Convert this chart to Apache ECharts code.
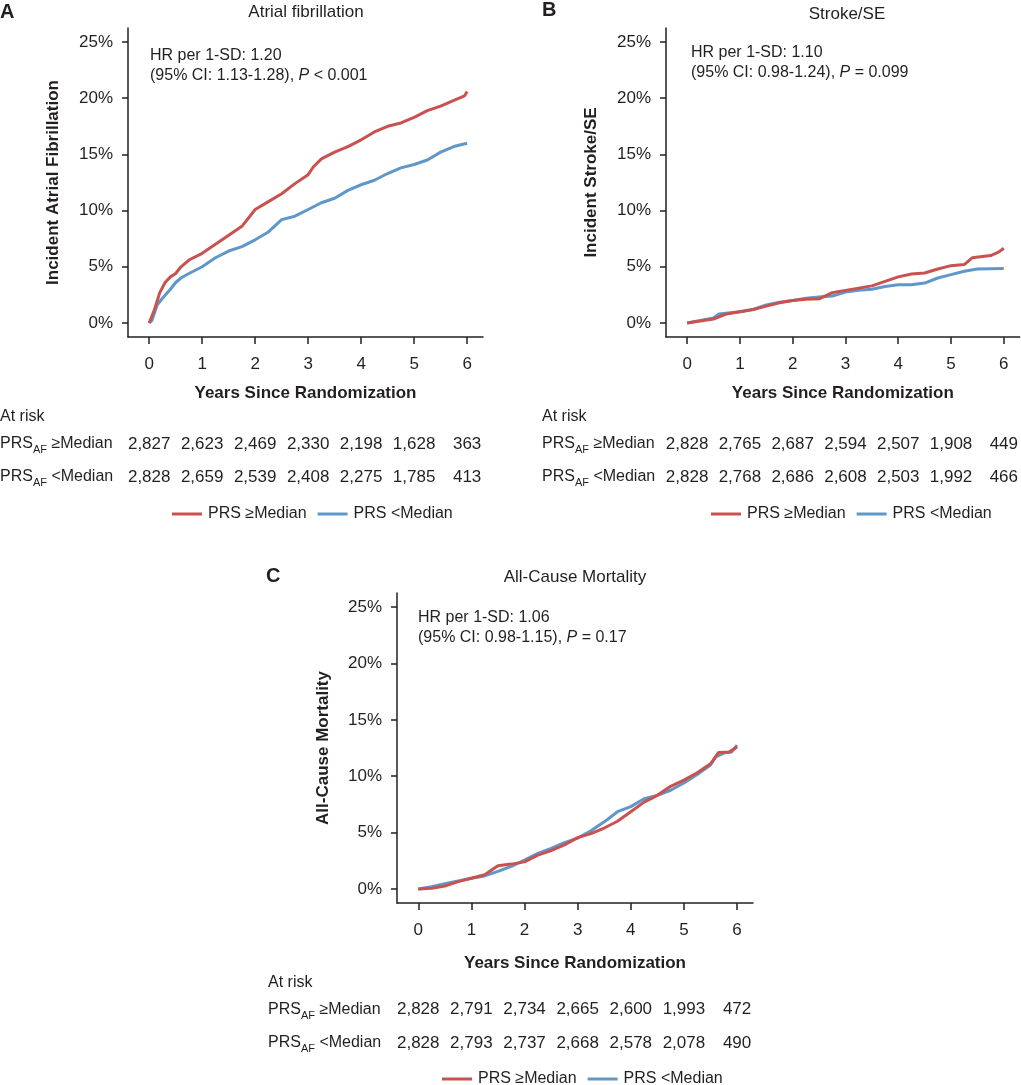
<!DOCTYPE html>
<html>
<head>
<meta charset="utf-8">
<script src="https://cdn.jsdelivr.net/npm/echarts@6/dist/echarts.min.js"></script>
<style>
html,body{margin:0;padding:0;background:#fff}
#main{width:1021px;height:1085px}
</style>
</head>
<body>
<div id="main"></div>
<script>
// data (years since randomization, cumulative incidence %)
var xTicks = [0, 1, 2, 3, 4, 5, 6];
var yTicks = [0, 5, 10, 15, 20, 25];

// A - atrial fibrillation
var afHighT = [0, 0.1, 0.2, 0.3, 0.4, 0.5, 0.6, 0.75, 1, 1.25, 1.5, 1.75, 2, 2.25, 2.5, 2.75, 3, 3.1, 3.25, 3.5, 3.75, 4, 4.25, 4.5, 4.75, 5, 5.25, 5.5, 5.75, 5.95, 6];
var afHighV = [0, 1.2, 2.7, 3.6, 4.1, 4.4, 5.0, 5.6, 6.2, 7.0, 7.8, 8.6, 10.1, 10.8, 11.5, 12.4, 13.2, 13.9, 14.6, 15.2, 15.7, 16.3, 17.0, 17.5, 17.8, 18.3, 18.9, 19.3, 19.8, 20.2, 20.6];
var afLowT = [0, 0.05, 0.15, 0.25, 0.4, 0.5, 0.6, 0.75, 1, 1.25, 1.5, 1.75, 2, 2.25, 2.5, 2.75, 3, 3.25, 3.5, 3.75, 4, 4.25, 4.5, 4.75, 5, 5.25, 5.5, 5.75, 6];
var afLowV = [0, 0.2, 1.6, 2.2, 3.0, 3.6, 4.0, 4.4, 5.0, 5.8, 6.4, 6.8, 7.4, 8.1, 9.2, 9.5, 10.1, 10.7, 11.1, 11.8, 12.3, 12.7, 13.3, 13.8, 14.1, 14.5, 15.2, 15.7, 16.0];
var afRiskHigh = ['2,827', '2,623', '2,469', '2,330', '2,198', '1,628', '363'];
var afRiskLow = ['2,828', '2,659', '2,539', '2,408', '2,275', '1,785', '413'];

// B - stroke/SE
var skHighT = [0, 0.5, 0.75, 1, 1.25, 1.5, 1.75, 2, 2.25, 2.5, 2.75, 3, 3.25, 3.5, 3.75, 4, 4.25, 4.5, 4.75, 5, 5.25, 5.4, 5.75, 5.9, 6];
var skHighV = [0, 0.35, 0.8, 1.0, 1.2, 1.5, 1.8, 2.0, 2.1, 2.15, 2.7, 2.9, 3.1, 3.3, 3.7, 4.1, 4.35, 4.45, 4.8, 5.1, 5.2, 5.8, 6.0, 6.3, 6.65];
var skLowT = [0, 0.5, 0.6, 1, 1.25, 1.5, 1.75, 2, 2.25, 2.5, 2.75, 3, 3.25, 3.5, 3.75, 4, 4.25, 4.5, 4.75, 5, 5.25, 5.5, 6];
var skLowV = [0, 0.45, 0.8, 1.0, 1.2, 1.6, 1.85, 2.0, 2.2, 2.3, 2.4, 2.75, 2.9, 3.0, 3.25, 3.4, 3.4, 3.55, 4.0, 4.3, 4.6, 4.8, 4.85];
var skRiskHigh = ['2,828', '2,765', '2,687', '2,594', '2,507', '1,908', '449'];
var skRiskLow = ['2,828', '2,768', '2,686', '2,608', '2,503', '1,992', '466'];

// C - all-cause mortality
var mtHighT = [0, 0.25, 0.5, 0.75, 1, 1.25, 1.5, 1.75, 2, 2.25, 2.5, 2.75, 3, 3.25, 3.5, 3.75, 4, 4.25, 4.5, 4.75, 5, 5.25, 5.5, 5.65, 5.85, 6];
var mtHighV = [0, 0.05, 0.25, 0.65, 0.95, 1.25, 2.05, 2.2, 2.4, 3.0, 3.4, 3.9, 4.55, 4.9, 5.4, 6.0, 6.85, 7.7, 8.3, 9.1, 9.65, 10.3, 11.1, 12.1, 12.15, 12.6];
var mtLowT = [0, 0.25, 0.5, 0.75, 1, 1.25, 1.5, 1.75, 2, 2.25, 2.5, 2.75, 3, 3.25, 3.5, 3.75, 4, 4.25, 4.5, 4.75, 5, 5.25, 5.5, 5.6, 5.75, 5.9, 6];
var mtLowV = [0, 0.2, 0.45, 0.7, 0.95, 1.15, 1.55, 2.0, 2.55, 3.15, 3.6, 4.1, 4.5, 5.15, 5.95, 6.85, 7.3, 8.0, 8.3, 8.75, 9.4, 10.15, 11.0, 11.7, 12.05, 12.15, 12.75];
var mtRiskHigh = ['2,828', '2,791', '2,734', '2,665', '2,600', '1,993', '472'];
var mtRiskLow = ['2,828', '2,793', '2,737', '2,668', '2,578', '2,078', '490'];

var RED = '#c9514f';
var BLUE = '#6097c9';
var INK = '#231f20';
var FONT = '"Liberation Sans", Arial, sans-serif';

function pairs(t, v) {
    return t.map(function (x, i) { return [x, v[i]]; });
}

var myChart = echarts.init(document.getElementById('main'));

var grids = [
    {left: 128, top: 28, width: 355, height: 309},
    {left: 666, top: 28, width: 355, height: 309},
    {left: 397, top: 593, width: 356, height: 310}
];

var panels = [
    {yName: 'Incident Atrial Fibrillation', yGap: 66, xGap: 48, riskOff: [107, 140], high: pairs(afHighT, afHighV), low: pairs(afLowT, afLowV), r1: afRiskHigh, r2: afRiskLow},
    {yName: 'Incident Stroke/SE', yGap: 66, xGap: 48, riskOff: [107, 140], high: pairs(skHighT, skHighV), low: pairs(skLowT, skLowV), r1: skRiskHigh, r2: skRiskLow},
    {yName: 'All-Cause Mortality', yGap: 65, xGap: 52, riskOff: [106, 140], high: pairs(mtHighT, mtHighV), low: pairs(mtLowT, mtLowV), r1: mtRiskHigh, r2: mtRiskLow}
];

var xAxes = [], yAxes = [], series = [];
panels.forEach(function (p, g) {
    xAxes.push({
        type: 'value', gridIndex: g, min: -0.4, max: 6.3,
        name: 'Years Since Randomization', nameLocation: 'middle', nameGap: p.xGap,
        nameTextStyle: {fontSize: 17, fontWeight: 'bold', color: INK, fontFamily: FONT},
        axisLine: {onZero: false, lineStyle: {color: INK, width: 1.5}},
        axisTick: {customValues: xTicks, length: 7, lineStyle: {color: INK, width: 1.5}},
        axisLabel: {customValues: xTicks, margin: 19, fontSize: 17, color: INK, fontFamily: FONT},
        splitLine: {show: false}
    });
    [p.r1, p.r2].forEach(function (row, k) {
        xAxes.push({
            type: 'value', gridIndex: g, min: -0.4, max: 6.3, position: 'bottom', offset: p.riskOff[k],
            axisLine: {show: false}, axisTick: {show: false}, splitLine: {show: false},
            axisLabel: {
                customValues: xTicks, margin: 0, verticalAlign: 'middle',
                fontSize: 17, color: INK, fontFamily: FONT,
                formatter: function (v) { return row[Math.round(v)]; }
            }
        });
    });
    yAxes.push({
        type: 'value', gridIndex: g, min: -1.25, max: 26.25,
        name: p.yName, nameLocation: 'middle', nameGap: p.yGap, nameRotate: 90,
        nameTextStyle: {fontSize: 17, fontWeight: 'bold', color: INK, fontFamily: FONT},
        axisLine: {show: true, onZero: false, lineStyle: {color: INK, width: 1.5}},
        axisTick: {show: true, customValues: yTicks, length: 6, lineStyle: {color: INK, width: 1.5}},
        axisLabel: {customValues: yTicks, margin: 15, fontSize: 17, color: INK, fontFamily: FONT,
            formatter: function (v) { return v + '%'; }},
        splitLine: {show: false}
    });
    series.push({
        name: 'PRS ≥Median', type: 'line', xAxisIndex: g * 3, yAxisIndex: g,
        data: p.high, showSymbol: false, lineStyle: {color: RED, width: 3}, itemStyle: {color: RED}, z: 3
    });
    series.push({
        name: 'PRS <Median', type: 'line', xAxisIndex: g * 3, yAxisIndex: g,
        data: p.low, showSymbol: false, lineStyle: {color: BLUE, width: 3}, itemStyle: {color: BLUE}, z: 2
    });
});

function legend(left, top) {
    return {
        left: left, top: top, icon: 'rect', itemWidth: 30, itemHeight: 3, itemGap: 11,
        selectedMode: false,
        data: ['PRS ≥Median', 'PRS <Median'],
        textStyle: {fontSize: 16, color: INK, fontFamily: FONT, padding: [0, 0, 0, 1]}
    };
}

function txt(x, y, text, extra) {
    var style = {text: text, fill: INK, fontSize: 16, fontFamily: FONT, align: 'left', verticalAlign: 'middle'};
    for (var k in extra) style[k] = extra[k];
    return {type: 'text', x: x, y: y, style: style};
}

var rowRich = {
    sub: {fontSize: 11, fontFamily: FONT, fill: INK, padding: [12, 0, 0, 0]}
};
var pRich = {
    it: {fontStyle: 'italic', fontSize: 16, fontFamily: FONT, fill: INK}
};

function panelTexts(letter, lx, ly, title, tx, ty, hr, ci, ax, ay, rx, ry) {
    return [
        txt(lx, ly, letter, {fontSize: 20, fontWeight: 'bold'}),
        txt(tx, ty, title, {fontSize: 17, align: 'center'}),
        txt(ax, ay, hr, {fontSize: 16}),
        txt(ax, ay + 20, ci, {fontSize: 16, rich: pRich}),
        txt(rx, ry, 'At risk', {fontSize: 16}),
        txt(rx, ry + 27, 'PRS{sub|AF} ≥Median', {fontSize: 16, rich: rowRich}),
        txt(rx, ry + 60, 'PRS{sub|AF} <Median', {fontSize: 16, rich: rowRich})
    ];
}

var graphics = []
    .concat(panelTexts('A', 0, 12, 'Atrial fibrillation', 306, 12,
        'HR per 1-SD: 1.20', '(95% CI: 1.13-1.28), {it|P} < 0.001', 150, 56, 0, 417))
    .concat(panelTexts('B', 542, 10, 'Stroke/SE', 847, 14,
        'HR per 1-SD: 1.10', '(95% CI: 0.98-1.24), {it|P} = 0.099', 691, 53, 542, 417))
    .concat(panelTexts('C', 266, 576, 'All-Cause Mortality', 575, 577,
        'HR per 1-SD: 1.06', '(95% CI: 0.98-1.15), {it|P} = 0.17', 418, 618, 268, 983));

var option = {
    animation: false,
    backgroundColor: '#fff',
    textStyle: {fontFamily: FONT},
    grid: grids,
    xAxis: xAxes,
    yAxis: yAxes,
    legend: [legend(167, 501), legend(706, 501), legend(437, 1066)],
    series: series,
    graphic: graphics
};
myChart.setOption(option);
</script>
</body>
</html>
